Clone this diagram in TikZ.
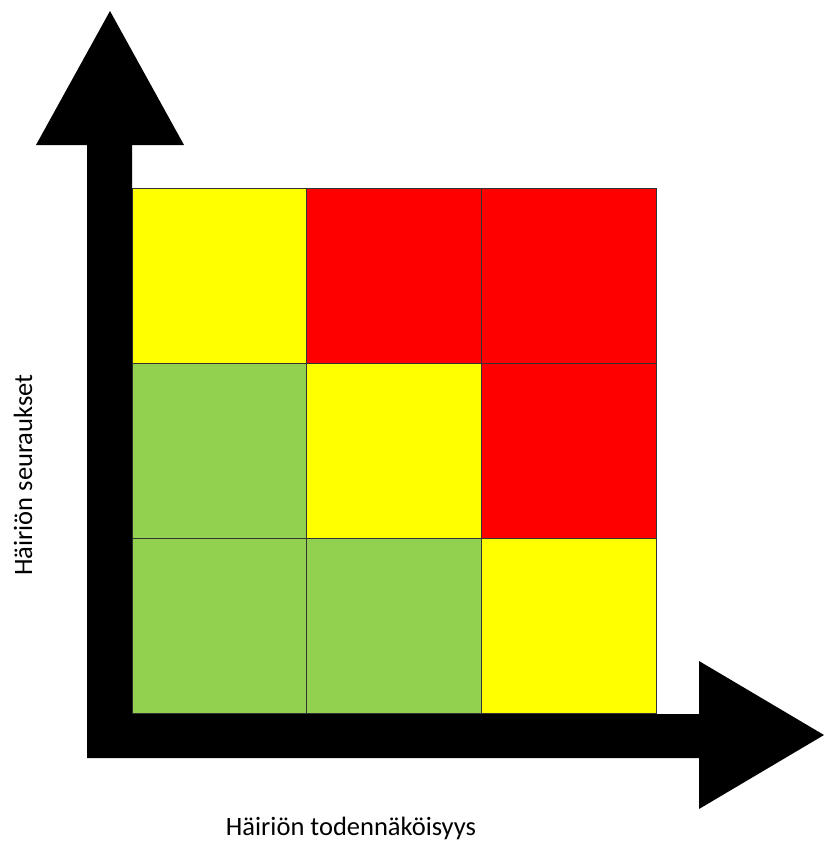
\documentclass[tikz,border=0pt]{standalone}
\usepackage{fontspec}
\setmainfont{Carlito}
\definecolor{rgreen}{HTML}{92D050}
\definecolor{ryellow}{HTML}{FFFF00}
\definecolor{rred}{HTML}{FF0000}
\begin{document}
\begin{tikzpicture}[x=1pt,y=-1pt,
  cellline/.style={draw=black!80,line width=0.8pt},
  lbl/.style={font=\fontsize{26.5}{30}\selectfont,text=black}]
\useasboundingbox (0,0) rectangle (824,841);
% grid
\def\xa{132}\def\xb{306.67}\def\xc{481.33}\def\xd{656}
\def\ya{188}\def\yb{363}\def\yc{538}\def\yd{713}
\fill[ryellow] (\xa,\ya) rectangle (\xb,\yb);
\fill[rred] (\xb,\ya) rectangle (\xc,\yb);
\fill[rred] (\xc,\ya) rectangle (\xd,\yb);
\fill[rgreen] (\xa,\yb) rectangle (\xb,\yc);
\fill[ryellow] (\xb,\yb) rectangle (\xc,\yc);
\fill[rred] (\xc,\yb) rectangle (\xd,\yc);
\fill[rgreen] (\xa,\yc) rectangle (\xb,\yd);
\fill[rgreen] (\xb,\yc) rectangle (\xc,\yd);
\fill[ryellow] (\xc,\yc) rectangle (\xd,\yd);
\draw[cellline] (\xa,\ya) rectangle (\xd,\yd);
\draw[cellline] (\xb,\ya) -- (\xb,\yd) (\xc,\ya) -- (\xc,\yd)
  (\xa,\yb) -- (\xd,\yb) (\xa,\yc) -- (\xd,\yc);
% axes arrows
\fill[black] (87,758) -- (87,145) -- (36,145) -- (110,11) -- (184,145) -- (132,145)
  -- (132,714) -- (699,714) -- (699,661) -- (824,735) -- (699,809) -- (699,758) -- cycle;
% labels
\node[lbl] (xl) at (351,828) {Häiriön todennäköisyys};
\node[lbl,rotate=90] (yl) at (23,475) {Häiriön seuraukset};
\end{tikzpicture}
\end{document}
